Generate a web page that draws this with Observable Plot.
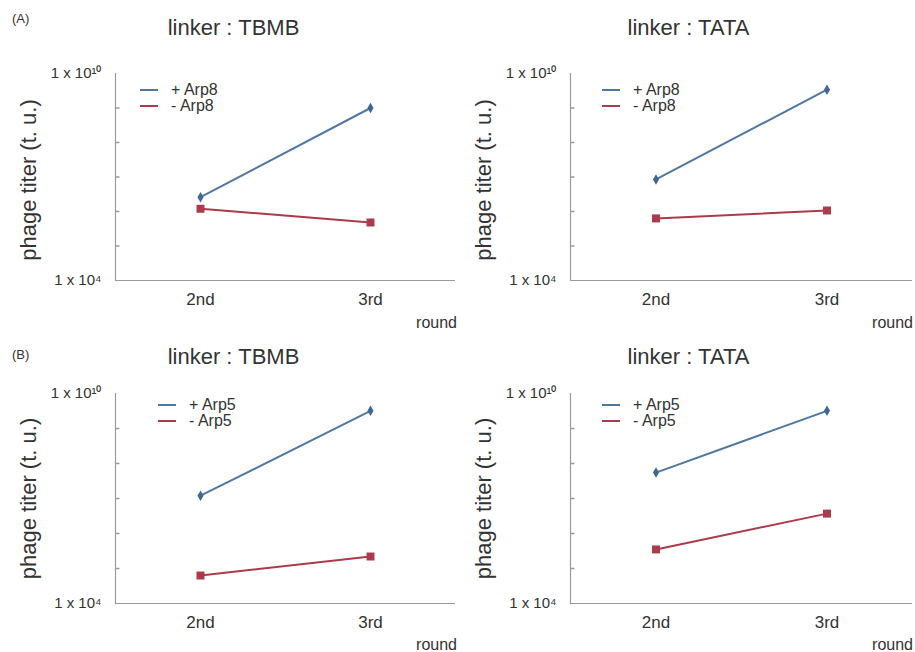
<!DOCTYPE html>
<html>
<head>
<meta charset="utf-8">
<script src="https://cdn.jsdelivr.net/npm/d3@7"></script>
<script src="https://cdn.jsdelivr.net/npm/@observablehq/plot@0.6"></script>
<style>
  html, body { margin: 0; padding: 0; background: #fff; }
  #root { position: relative; width: 915px; height: 652px; font-family: "Liberation Sans", Arial, sans-serif; color: #333; overflow: hidden; }
  .panel { position: absolute; }
  .title { position: absolute; font-size: 22px; transform: translateX(-50%); white-space: nowrap; line-height: 1; }
  .tag { position: absolute; font-size: 13px; line-height: 1; }
  .round { position: absolute; font-size: 16px; line-height: 1; }
  .legend { position: absolute; font-size: 16px; line-height: 16px; }
  .legend .row { display: flex; align-items: center; height: 16px; }
  .legend .sw { width: 18px; height: 2px; margin-right: 13px; }
</style>
</head>
<body>
<div id="root"></div>
<script>
// ---- data ----
const rounds = ["2nd", "3rd"];
const titles = ["linker : TBMB", "linker : TATA", "linker : TBMB", "linker : TATA"];
const seriesA = ["+ Arp8", "- Arp8"];
const seriesB = ["+ Arp5", "- Arp5"];
const tbmbA_plus = [2.6e6, 1.0e9];
const tbmbA_minus = [1.2e6, 4.8e5];
const tataA_plus = [8.5e6, 3.4e9];
const tataA_minus = [6.3e5, 1.07e6];
const tbmbB_plus = [1.2e7, 3.2e9];
const tbmbB_minus = [6.3e4, 2.2e5];
const tataB_plus = [5.5e7, 3.2e9];
const tataB_minus = [3.5e5, 3.7e6];
const decades = [1e4, 1e5, 1e6, 1e7, 1e8, 1e9, 1e10];
const yLabels = {1e4: "1 x 10\u2074", 1e10: "1 x 10\u00B9\u2070"};
const panelTags = ["(A)", "(B)"];
const xTitle = "round";
const yTitle = "phage titer (t. u.)";

const BLUE = "#4f77a3";
const RED = "#ad3a4a";
const AXIS = "#9a9a9a";

const panels = [
  {title: titles[0], series: seriesA, plus: tbmbA_plus, minus: tbmbA_minus, left: 0,   top: 0,   mt: 73, mb: 50, lgx: 140, lgy: 82},
  {title: titles[1], series: seriesA, plus: tataA_plus, minus: tataA_minus, left: 455, top: 0,   mt: 73, mb: 50, lgx: 147, lgy: 82},
  {title: titles[2], series: seriesB, plus: tbmbB_plus, minus: tbmbB_minus, left: 0,   top: 322, mt: 71, mb: 49, lgx: 158, lgy: 75},
  {title: titles[3], series: seriesB, plus: tataB_plus, minus: tataB_minus, left: 455, top: 322, mt: 71, mb: 49, lgx: 147, lgy: 75}
];

const root = document.getElementById("root");
const W = 457, H = 330, ML = 115;

const tickSymbol = { draw(ctx) { ctx.moveTo(0, 0); ctx.lineTo(4, 0); } };

panels.forEach((p, i) => {
  const rows = [];
  rounds.forEach((r, j) => {
    rows.push({round: r, series: p.series[0], value: p.plus[j]});
    rows.push({round: r, series: p.series[1], value: p.minus[j]});
  });
  const plusRows = rows.filter(d => d.series === p.series[0]);
  const minusRows = rows.filter(d => d.series === p.series[1]);

  const chart = Plot.plot({
    width: W,
    height: H,
    marginLeft: ML,
    marginRight: i % 2 === 0 ? 2 : 0,
    marginTop: p.mt,
    marginBottom: p.mb,
    style: {fontFamily: "Liberation Sans, Arial, sans-serif", fontSize: "15px", color: "#333", background: "transparent"},
    x: {type: "band", domain: rounds, padding: 0, axis: null, label: null},
    y: {type: "log", domain: [1e4, 1e10], axis: null, label: null},
    marks: [
      Plot.ruleY([1e4], {stroke: AXIS, strokeWidth: 1.2}),
      Plot.frame({anchor: "left", stroke: AXIS, strokeWidth: 1.2}),
      Plot.dot(decades.slice(1, -1), {y: d => d, frameAnchor: "left", symbol: tickSymbol, stroke: AXIS, fill: "none", r: 3}),
      Plot.axisX({tickSize: 0, tickPadding: 12, fontSize: 17, fill: "#333", label: null}),
      Plot.axisY({ticks: [1e4, 1e10], tickSize: 0, tickPadding: 14, fontSize: 15, fill: "#333", label: null, tickFormat: d => yLabels[d] ?? ""}),
      Plot.text([yTitle], {frameAnchor: "left", textAnchor: "middle", dx: -87, dy: i < 2 ? 3 : 0, rotate: -90, fontSize: 22, fill: "#333"}),
      Plot.line(plusRows, {x: "round", y: "value", stroke: BLUE, strokeWidth: 2}),
      Plot.line(minusRows, {x: "round", y: "value", stroke: RED, strokeWidth: 2}),
      Plot.dot(plusRows, {x: "round", y: "value", symbol: "diamond", r: 3.2, fill: "#3f6796"}),
      Plot.dot(minusRows, {x: "round", y: "value", symbol: "square", r: 4.5, fill: RED})
    ]
  });

  const wrap = document.createElement("div");
  wrap.className = "panel";
  wrap.style.left = p.left + "px";
  wrap.style.top = p.top + "px";
  wrap.style.width = W + "px";
  wrap.style.height = H + "px";
  wrap.appendChild(chart);

  const t = document.createElement("div");
  t.className = "title";
  t.textContent = p.title;
  t.style.left = (W / 2 + 5) + "px";
  t.style.top = (i < 2 ? 17 : 24) + "px";
  wrap.appendChild(t);

  const lg = document.createElement("div");
  lg.className = "legend";
  lg.style.left = p.lgx + "px";
  lg.style.top = p.lgy + "px";
  p.series.forEach((s, k) => {
    const row = document.createElement("div");
    row.className = "row";
    const sw = document.createElement("span");
    sw.className = "sw";
    sw.style.background = k === 0 ? BLUE : RED;
    const tx = document.createElement("span");
    tx.textContent = s;
    row.appendChild(sw);
    row.appendChild(tx);
    lg.appendChild(row);
  });
  wrap.appendChild(lg);

  const rd = document.createElement("div");
  rd.className = "round";
  rd.textContent = xTitle;
  rd.style.right = (i % 2 === 0 ? 0 : -1) + "px";
  rd.style.top = (H - p.mb + (i < 2 ? 35 : 34)) + "px";
  wrap.appendChild(rd);

  if (i % 2 === 0) {
    const tag = document.createElement("div");
    tag.className = "tag";
    tag.textContent = panelTags[i / 2];
    tag.style.left = "12px";
    tag.style.top = (i === 0 ? 12 : 26) + "px";
    wrap.appendChild(tag);
  }
  root.appendChild(wrap);
});
</script>
</body>
</html>
